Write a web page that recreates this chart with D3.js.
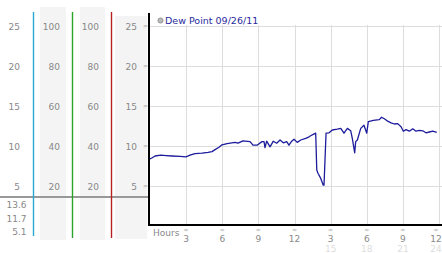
<!DOCTYPE html>
<html>
<head>
<meta charset="utf-8">
<script src="https://cdn.jsdelivr.net/npm/d3@7"></script>
<style>
  body { margin: 0; background: #fff; }
  svg text { font-family: "DejaVu Sans", Verdana, sans-serif; }
</style>
</head>
<body>
<div id="chart"></div>
<script>
// series: hour of day and dew point
const hours = [0, 0.15, 0.42, 0.91, 1.33, 1.83, 2.49, 2.99, 3.32, 3.74, 4.32, 4.82, 5.15, 5.4, 5.73, 5.98,
  6.4, 7.06, 7.31, 7.72, 8.31, 8.55, 8.89, 9.3, 9.47, 9.55, 9.69, 9.97, 10.24, 10.52, 10.8, 11.07, 11.35,
  11.54, 11.77, 11.96, 12.23, 12.52, 12.93, 13.21, 13.48, 13.76, 13.85, 13.95, 14.18, 14.39, 14.45, 14.62,
  14.87, 15.14, 15.56, 15.84, 16.11, 16.39, 16.67, 16.8, 17.0, 17.08, 17.22, 17.5, 17.77, 18.0, 18.13,
  18.55, 19.04, 19.23, 19.46, 19.74, 20.02, 20.29, 20.57, 20.85, 21.04, 21.26, 21.54, 21.82, 22.09, 22.37,
  22.65, 22.92, 23.2, 23.48, 23.81];
const dewPoint = [8.4, 8.5, 8.75, 8.85, 8.8, 8.75, 8.7, 8.65, 8.85, 9.05, 9.1, 9.2, 9.3, 9.55, 9.85, 10.15,
  10.3, 10.45, 10.35, 10.65, 10.55, 10.1, 10.1, 10.55, 10.55, 9.8, 10.6, 9.9, 10.6, 10.35, 10.75, 10.4, 10.55,
  10.1, 10.6, 10.85, 10.45, 10.75, 10.95, 11.15, 11.4, 11.6, 7.0, 6.6, 5.95, 5.1, 5.1, 11.6,
  11.65, 12.0, 12.1, 12.2, 11.6, 12.2, 11.9, 10.95, 9.15, 10.55, 10.75, 12.2, 12.6, 11.6, 13.05,
  13.2, 13.3, 13.6, 13.4, 13.1, 12.9, 12.75, 12.8, 12.4, 11.85, 12.05, 11.85, 12.15, 11.85, 11.95,
  11.9, 11.65, 11.75, 11.85, 11.7];

const legendLabel = "Dew Point 09/26/11";
const tempTicks = [5, 10, 15, 20, 25];
const humidTicks = [20, 40, 60, 80, 100];
const hourTicks = [3, 6, 9, 12, 15, 18, 21, 24];
const hourLabels = ["3", "6", "9", "12", "3", "6", "9", "12"];
const hourLabels24 = ["", "", "", "", "15", "18", "21", "24"];
const summaryValues = ["13.6", "11.7", "5.1"];

const W = 442, H = 253;
const plot = { left: 150, right: 439, top: 26, bottom: 226 };

const svg = d3.select("#chart").append("svg")
  .attr("width", W).attr("height", H);

const y = d3.scaleLinear().domain([0, 25]).range([plot.bottom, plot.top]);
const yPct = d3.scaleLinear().domain([0, 100]).range([plot.bottom, plot.top]);
const x = d3.scaleLinear().domain([0, 24]).range([plot.left, plot.right]);

// left panel: grey bands
[[40, 26], [80, 25], [115, 32]].forEach(([bx, bw], i) => {
  svg.append("rect")
    .attr("x", bx).attr("y", i === 2 ? 16 : 7)
    .attr("width", bw).attr("height", i === 2 ? 223 : 233)
    .attr("fill", "#f4f4f4");
});

// left panel labels
const labelCols = [
  { ticks: tempTicks, scale: y, xr: 20 },
  { ticks: humidTicks, scale: yPct, xr: 60 },
  { ticks: humidTicks, scale: yPct, xr: 99 },
  { ticks: tempTicks, scale: y, xr: 137 }
];
labelCols.forEach(col => {
  svg.append("g").selectAll("text")
    .data(col.ticks).join("text")
    .attr("x", col.xr).attr("y", d => col.scale(d) + 3.5)
    .attr("text-anchor", "end")
    .attr("fill", "#888").style("font-size", "9px")
    .text(d => d);
});

// tick squiggles next to y axis
svg.append("g").selectAll("text")
  .data(tempTicks).join("text")
  .attr("x", 145.5).attr("y", d => y(d) + 2)
  .attr("text-anchor", "middle")
  .attr("fill", "#aaa").style("font-size", "6px")
  .text("≈");

// separator line
svg.append("line")
  .attr("x1", 0).attr("x2", 149).attr("y1", 197).attr("y2", 197)
  .attr("stroke", "#999").attr("stroke-width", 2);

// coloured column lines
[[33.5, "#2aa8d0", 236], [72.5, "#2aa52a", 238], [111.5, "#b82020", 238]].forEach(([lx, c, yb]) => {
  svg.append("line")
    .attr("x1", lx).attr("x2", lx).attr("y1", 12).attr("y2", yb)
    .attr("stroke", c).attr("stroke-width", 1.4);
});

// summary values (max, current, min)
svg.append("g").selectAll("text")
  .data(summaryValues).join("text")
  .attr("x", 26.5).attr("y", (d, i) => 208 + i * 13.7)
  .attr("text-anchor", "end")
  .attr("fill", "#888").style("font-size", "9px")
  .text(d => d);

// grid
svg.append("g").selectAll("line")
  .data(tempTicks).join("line")
  .attr("x1", plot.left).attr("x2", W)
  .attr("y1", d => y(d) + 0.5).attr("y2", d => y(d) + 0.5)
  .attr("stroke", "#ddd");
svg.append("g").selectAll("line")
  .data(hourTicks).join("line")
  .attr("x1", d => Math.round(x(d)) + 0.5).attr("x2", d => Math.round(x(d)) + 0.5)
  .attr("y1", plot.top - 1).attr("y2", plot.bottom)
  .attr("stroke", "#ddd");

// axes lines
svg.append("line")
  .attr("x1", 149).attr("x2", 149).attr("y1", 13).attr("y2", 226)
  .attr("stroke", "#000").attr("stroke-width", 2);
svg.append("line")
  .attr("x1", 148).attr("x2", W).attr("y1", 225).attr("y2", 225)
  .attr("stroke", "#000").attr("stroke-width", 2);

// x labels
svg.append("text")
  .attr("x", 153).attr("y", 236)
  .attr("fill", "#888").style("font-size", "9px")
  .text("Hours");
const lastTick = hourTicks[hourTicks.length - 1];
const xl = svg.append("g").selectAll("g")
  .data(hourTicks).join("g")
  .attr("transform", d => `translate(${d === lastTick ? x(d) - 3 : x(d)},0)`);
xl.append("text")
  .attr("y", 232).attr("text-anchor", "middle")
  .attr("fill", "#aaa").style("font-size", "6px")
  .text("≈");
xl.append("text")
  .attr("y", 242).attr("text-anchor", "middle")
  .attr("fill", "#888").style("font-size", "9px")
  .text((d, i) => hourLabels[i]);
xl.append("text")
  .attr("y", 251.5).attr("text-anchor", "middle")
  .attr("fill", "#ddd").style("font-size", "9px")
  .text((d, i) => hourLabels24[i]);

// data line
const line = d3.line()
  .x((d, i) => x(hours[i]))
  .y(d => y(d));
svg.append("path")
  .datum(dewPoint)
  .attr("fill", "none")
  .attr("stroke", "#1c1c9c")
  .attr("stroke-width", 1.3)
  .attr("stroke-linejoin", "round")
  .attr("d", line);

// legend
svg.append("circle")
  .attr("cx", 160.5).attr("cy", 20.5).attr("r", 2.6)
  .attr("fill", "#bbb").attr("stroke", "#888").attr("stroke-width", 0.8);
svg.append("text")
  .attr("x", 165).attr("y", 24)
  .attr("fill", "#2a2aa0").style("font-size", "9.5px")
  .text(legendLabel);
</script>
</body>
</html>
